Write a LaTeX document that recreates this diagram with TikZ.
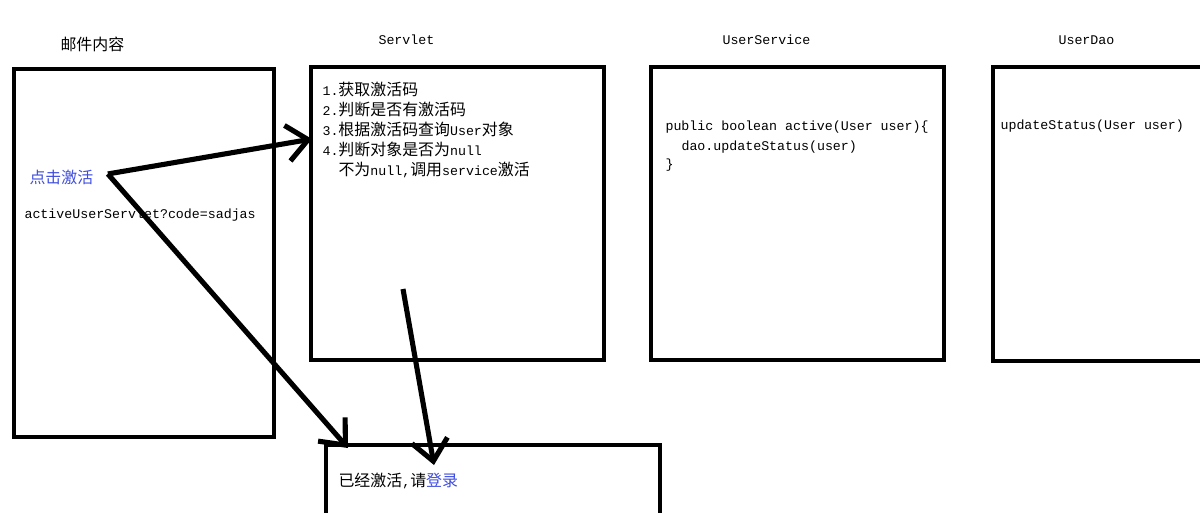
\documentclass[tikz,border=0pt]{standalone}
\usepackage{fontspec}
\setmainfont{Liberation Mono}
\newfontfamily\cjk[Scale=1.2]{Noto Sans CJK SC}
\usepackage{tikz}
\usetikzlibrary{calc}
\usetikzlibrary{positioning}
\usetikzlibrary{arrows.meta}
\definecolor{linkblue}{RGB}{62,76,222}
\def\zh#1{{\cjk #1}}

\begin{document}
\begin{tikzpicture}[x=0.02cm,y=-0.02cm,-{Straight Barb[length=0.42cm,width=0.72cm]},line width=2.9pt,
	  box/.style={draw,rectangle,line width=2.7pt,anchor=north west,inner sep=0pt,outer sep=0pt},
	  txt/.style={anchor=base west,inner sep=0pt,align=left,xshift=-0.04cm,font=\fontsize{7.56}{11.3}\selectfont}]
	  \clip (0,0) rectangle (1200,512);

	  \node[box,minimum width=5.2cm,minimum height=7.36cm] (mail) at (14,69) {};
	  \node[box,minimum width=5.86cm,minimum height=5.86cm] (servlet) at (311,67) {};
	  \node[box,minimum width=5.86cm,minimum height=5.86cm] (service) at (651,67) {};
	  \node[box,minimum width=5.86cm,minimum height=5.88cm] (dao) at (993,67) {};
	  \node[box,minimum width=6.68cm,minimum height=3cm] (result) at (326,445) {};

	  \node[txt] (mailtitle) at (60,50) {\zh{邮件内容}};
	  \node[txt] (servlettitle) at (378,44) {Servlet};
	  \node[txt] (servicetitle) at (722,44) {UserService};
	  \node[txt] (daotitle) at (1058,44) {UserDao};

	  \node[txt,text=linkblue] (click) at ($ (mail.north west) + (15,114) $) {\zh{点击激活}};
	  \node[txt] (link) at ($ (mail.north west) + (10,149) $) {activeUserServlet?code=sadjas};
	  \node[txt] (steps) at ($ (servlet.north west) + (11,108) $) {1.\zh{获取激活码}\\
	    2.\zh{判断是否有激活码}\\
	    3.\zh{根据激活码查询}User\zh{对象}\\
	    4.\zh{判断对象是否为}null\\
	    \hspace*{0.32cm}\zh{不为}null,\zh{调用}service\zh{激活}};
	  \node[txt] (active) at ($ (service.north west) + (14,63) $) {public boolean active(User user)\{};
	  \node[txt] (call) at ($ (service.north west) + (30,83) $) {dao.updateStatus(user)};
	  \node[txt] (close) at ($ (service.north west) + (14,101) $) {\}};
	  \node[txt] (update) at ($ (dao.north west) + (7,62) $) {updateStatus(User user)};
	  \node[txt] (done) at ($ (result.north west) + (12,41) $) {\zh{已经激活},\zh{请}\textcolor{linkblue}{\zh{登录}}};

	  \coordinate (fork) at ($ (click.east) + (12,-3) $);
	  \coordinate (toservlet) at ($ (servlet.north west) + (1,72) $);
	  \coordinate (toresult) at ($ (result.north west) + (22,3) $);
	  \coordinate (fromservlet) at ($ (servlet.north west) + (92,222) $);
	  \coordinate (toresult2) at ($ (result.north west) + (108,20) $);

	  \draw (fork) -- (toservlet);
	  \draw (fork) -- (toresult);
	  \draw (fromservlet) -- (toresult2);
	\end{tikzpicture}
\end{document}
